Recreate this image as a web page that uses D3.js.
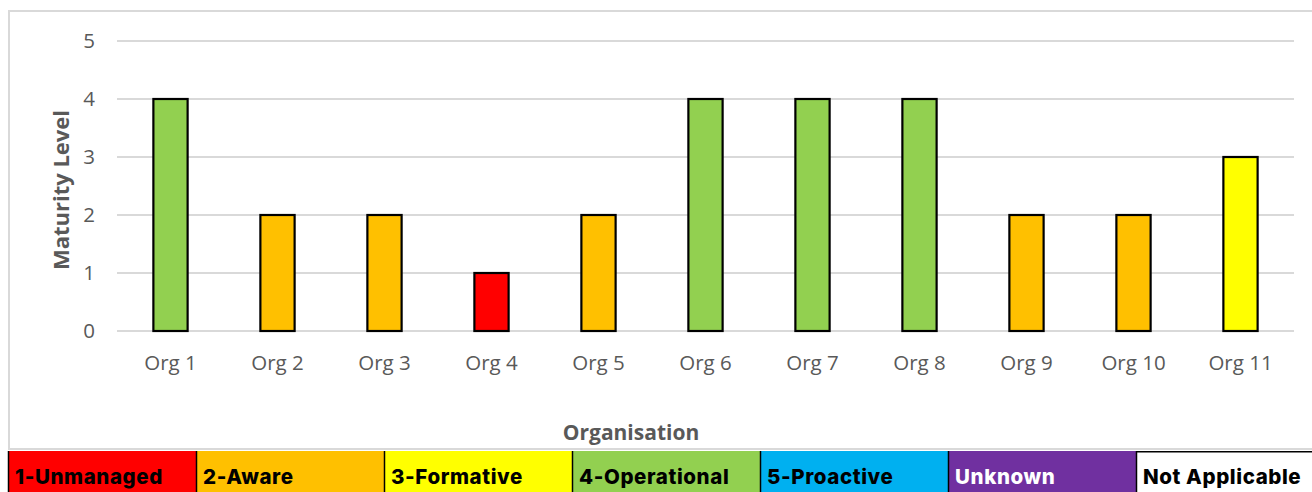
<!DOCTYPE html>
<html>
<head>
<meta charset="utf-8">
<script src="https://cdn.jsdelivr.net/npm/d3@7"></script>
<style>
  html, body { margin: 0; padding: 0; background: #fff; }
  svg { display: block; }
</style>
</head>
<body>
<svg id="chart" width="1312" height="492"></svg>
<script>
// Maturity level per organisation
const organisations = ["Org 1", "Org 2", "Org 3", "Org 4", "Org 5", "Org 6", "Org 7", "Org 8", "Org 9", "Org 10", "Org 11"];
const maturity = [4, 2, 2, 1, 2, 4, 4, 4, 2, 2, 3];
const yTicks = [0, 1, 2, 3, 4, 5];

// Maturity scale legend
const legendLabels = ["1-Unmanaged", "2-Aware", "3-Formative", "4-Operational", "5-Proactive", "Unknown", "Not Applicable"];
const legendColors = ["#FF0000", "#FFC000", "#FFFF00", "#92D050", "#00B0F0", "#7030A0", "#FFFFFF"];
const legendText = ["#000", "#000", "#000", "#000", "#000", "#FFFFFF", "#000"];

const svg = d3.select("#chart");
const W = 1312, H = 492;
const margin = { left: 117, right: 18, top: 41, bottom: 161 };
const labelFont = "'Open Sans', Lato, sans-serif";

const x = d3.scaleBand()
  .domain(organisations)
  .range([margin.left, W - margin.right])
  .paddingInner(0.68)
  .paddingOuter(0.34);

const y = d3.scaleLinear()
  .domain([0, 5])
  .range([H - margin.bottom, margin.top]);

// chart area frame
svg.append("rect")
  .attr("x", 9).attr("y", 11)
  .attr("width", W + 20).attr("height", 438)
  .attr("fill", "#fff")
  .attr("stroke", "#D9D9D9")
  .attr("stroke-width", 2);

// gridlines
svg.append("g")
  .selectAll("line")
  .data(yTicks)
  .join("line")
  .attr("x1", margin.left).attr("x2", W - margin.right)
  .attr("y1", d => y(d)).attr("y2", d => y(d))
  .attr("stroke", "#D9D9D9")
  .attr("stroke-width", 2);

// y axis labels
const yAxis = d3.axisLeft(y).tickValues(yTicks).tickFormat(d3.format("d")).tickSize(0).tickPadding(22);
const gy = svg.append("g").attr("transform", `translate(${margin.left},0)`).call(yAxis);
gy.select(".domain").remove();
gy.selectAll("text")
  .attr("fill", "#595959")
  .style("font-family", labelFont)
  .style("font-size", "20.5px");

// x axis labels
const xAxis = d3.axisBottom(x).tickSize(0).tickPadding(24);
const gx = svg.append("g").attr("transform", `translate(0,${y(0)})`).call(xAxis);
gx.select(".domain").remove();
gx.selectAll("text")
  .attr("fill", "#595959")
  .style("font-family", labelFont)
  .style("font-size", "20.5px");

// bars coloured by maturity level
svg.append("g")
  .selectAll("rect")
  .data(organisations.map((o, i) => ({ org: o, value: maturity[i] })))
  .join("rect")
  .attr("x", d => x(d.org))
  .attr("y", d => y(d.value))
  .attr("width", x.bandwidth())
  .attr("height", d => y(0) - y(d.value))
  .attr("fill", d => legendColors[d.value - 1])
  .attr("stroke", "#000")
  .attr("stroke-width", 2.2);

// axis titles
svg.append("text")
  .attr("transform", `translate(69,${(y(0) + y(5)) / 2 + 4}) rotate(-90)`)
  .attr("text-anchor", "middle")
  .attr("fill", "#595959")
  .style("font-family", labelFont)
  .style("font-weight", "700")
  .style("font-size", "22px")
  .text("Maturity Level");

svg.append("text")
  .attr("x", 631).attr("y", 440)
  .attr("text-anchor", "middle")
  .attr("fill", "#595959")
  .style("font-family", labelFont)
  .style("font-weight", "700")
  .style("font-size", "21px")
  .text("Organisation");

// legend strip
const legendX = d3.scaleBand()
  .domain(legendLabels)
  .range([8, 8 + 188 * 7]);

const lg = svg.append("g");
const cells = lg.selectAll("g")
  .data(legendLabels.map((l, i) => ({ label: l, color: legendColors[i], text: legendText[i] })))
  .join("g")
  .attr("transform", d => `translate(${legendX(d.label)},451)`);

cells.append("rect")
  .attr("width", legendX.bandwidth())
  .attr("height", 41)
  .attr("fill", d => d.color);

cells.append("line")
  .attr("x1", 0.5).attr("x2", 0.5)
  .attr("y1", 0).attr("y2", 41)
  .attr("stroke", "#000")
  .attr("stroke-width", 1.5);

cells.filter(d => d.label === "Not Applicable")
  .append("line")
  .attr("x1", 0).attr("x2", legendX.bandwidth())
  .attr("y1", 0.75).attr("y2", 0.75)
  .attr("stroke", "#000")
  .attr("stroke-width", 1.5);

cells.append("text")
  .attr("x", 7).attr("y", 32.5)
  .attr("fill", d => d.text)
  .style("font-family", "Inter, 'Noto Sans', sans-serif")
  .style("font-weight", "800")
  .style("font-size", "20.5px")
  .style("letter-spacing", "0.6px")
  .text(d => d.label);
</script>
</body>
</html>
